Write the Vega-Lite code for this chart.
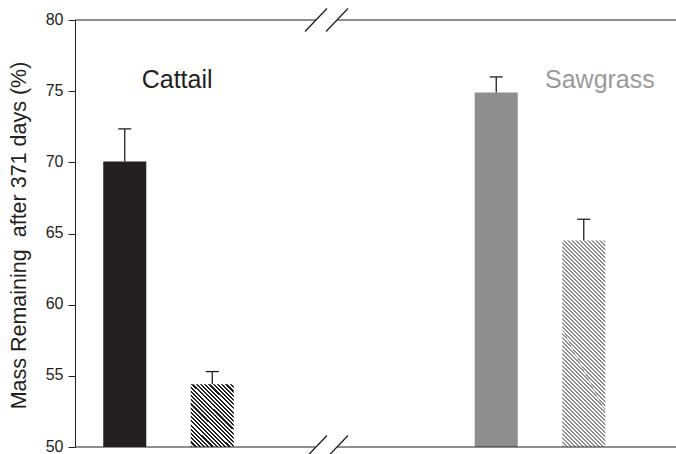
{
  "$schema": "https://vega.github.io/schema/vega-lite/v6.json",
  "width": 601,
  "height": 427,
  "autosize": {"type": "none"},
  "padding": {"left": 75, "top": 20, "right": 0, "bottom": 7},
  "background": "white",
  "config": {"view": {"stroke": null}, "font": "Liberation Sans"},
  "datasets": {
    "bars": [
      {"species": "Cattail", "treatment": "A", "mass": 70.05, "upper": 72.35},
      {"species": "Cattail", "treatment": "B", "mass": 54.4, "upper": 55.3},
      {"species": "Sawgrass", "treatment": "A", "mass": 74.9, "upper": 76.0},
      {"species": "Sawgrass", "treatment": "B", "mass": 64.5, "upper": 66.0}
    ]
  },
  "data": {"name": "bars"},
  "layer": [
    {
      "transform": [{"filter": "datum.treatment === 'A'"}],
      "mark": {"type": "bar", "width": 43},
      "encoding": {
        "x": {"field": "species", "type": "nominal", "scale": {"domain": ["Cattail", "Sawgrass"], "range": [-81.5, 640], "paddingInner": 0.05787, "paddingOuter": 0}, "axis": null},
        "xOffset": {"field": "treatment", "type": "nominal", "scale": {"domain": ["A", "B"], "paddingInner": 0, "paddingOuter": 1}},
        "y": {"field": "mass", "type": "quantitative", "scale": {"domain": [50, 80], "nice": false, "zero": false},
          "axis": {"values": [50, 55, 60, 65, 70, 75, 80], "grid": false, "tickSize": 7, "tickColor": "#231f20", "tickWidth": 1, "domainColor": "#231f20", "domainWidth": 1, "labelFontSize": 16, "labelOffset": -1, "labelColor": "#231f20", "labelPadding": 5, "labelFont": "Liberation Sans",
            "title": "Mass Remaining\u00a0 after 371 days (%)", "titleFont": "Liberation Sans", "titleFontSize": 21.5, "titleFontWeight": "normal", "titleColor": "#231f20", "titleX": -45, "titleY": 215, "titleAngle": 270, "titleBaseline": "bottom", "titleAlign": "center"}},
        "y2": {"datum": 50},
        "color": {"field": "species", "type": "nominal", "scale": {"domain": ["Cattail", "Sawgrass"], "range": ["#231f20", "#8e8e90"]}, "legend": null}
      }
    },
    {
      "transform": [{"filter": "datum.species === 'Cattail' && datum.treatment === 'B'"}],
      "mark": {"type": "bar", "width": 43, "fill": {"gradient": "linear", "x1": 0, "y1": 1, "x2": 0.7834, "y2": -0.1478, "stops": [
        {"offset": 0, "color": "#231f20"}, {"offset": 0.02, "color": "#231f20"},
        {"offset": 0.02, "color": "#ffffff"}, {"offset": 0.04, "color": "#ffffff"},
        {"offset": 0.04, "color": "#231f20"}, {"offset": 0.06, "color": "#231f20"},
        {"offset": 0.06, "color": "#ffffff"}, {"offset": 0.08, "color": "#ffffff"},
        {"offset": 0.08, "color": "#231f20"}, {"offset": 0.1, "color": "#231f20"},
        {"offset": 0.1, "color": "#ffffff"}, {"offset": 0.12, "color": "#ffffff"},
        {"offset": 0.12, "color": "#231f20"}, {"offset": 0.14, "color": "#231f20"},
        {"offset": 0.14, "color": "#ffffff"}, {"offset": 0.16, "color": "#ffffff"},
        {"offset": 0.16, "color": "#231f20"}, {"offset": 0.18, "color": "#231f20"},
        {"offset": 0.18, "color": "#ffffff"}, {"offset": 0.2, "color": "#ffffff"},
        {"offset": 0.2, "color": "#231f20"}, {"offset": 0.22, "color": "#231f20"},
        {"offset": 0.22, "color": "#ffffff"}, {"offset": 0.24, "color": "#ffffff"},
        {"offset": 0.24, "color": "#231f20"}, {"offset": 0.26, "color": "#231f20"},
        {"offset": 0.26, "color": "#ffffff"}, {"offset": 0.28, "color": "#ffffff"},
        {"offset": 0.28, "color": "#231f20"}, {"offset": 0.3, "color": "#231f20"},
        {"offset": 0.3, "color": "#ffffff"}, {"offset": 0.32, "color": "#ffffff"},
        {"offset": 0.32, "color": "#231f20"}, {"offset": 0.34, "color": "#231f20"},
        {"offset": 0.34, "color": "#ffffff"}, {"offset": 0.36, "color": "#ffffff"},
        {"offset": 0.36, "color": "#231f20"}, {"offset": 0.38, "color": "#231f20"},
        {"offset": 0.38, "color": "#ffffff"}, {"offset": 0.4, "color": "#ffffff"},
        {"offset": 0.4, "color": "#231f20"}, {"offset": 0.42, "color": "#231f20"},
        {"offset": 0.42, "color": "#ffffff"}, {"offset": 0.44, "color": "#ffffff"},
        {"offset": 0.44, "color": "#231f20"}, {"offset": 0.46, "color": "#231f20"},
        {"offset": 0.46, "color": "#ffffff"}, {"offset": 0.48, "color": "#ffffff"},
        {"offset": 0.48, "color": "#231f20"}, {"offset": 0.5, "color": "#231f20"},
        {"offset": 0.5, "color": "#ffffff"}, {"offset": 0.52, "color": "#ffffff"},
        {"offset": 0.52, "color": "#231f20"}, {"offset": 0.54, "color": "#231f20"},
        {"offset": 0.54, "color": "#ffffff"}, {"offset": 0.56, "color": "#ffffff"},
        {"offset": 0.56, "color": "#231f20"}, {"offset": 0.58, "color": "#231f20"},
        {"offset": 0.58, "color": "#ffffff"}, {"offset": 0.6, "color": "#ffffff"},
        {"offset": 0.6, "color": "#231f20"}, {"offset": 0.62, "color": "#231f20"},
        {"offset": 0.62, "color": "#ffffff"}, {"offset": 0.64, "color": "#ffffff"},
        {"offset": 0.64, "color": "#231f20"}, {"offset": 0.66, "color": "#231f20"},
        {"offset": 0.66, "color": "#ffffff"}, {"offset": 0.68, "color": "#ffffff"},
        {"offset": 0.68, "color": "#231f20"}, {"offset": 0.7, "color": "#231f20"},
        {"offset": 0.7, "color": "#ffffff"}, {"offset": 0.72, "color": "#ffffff"},
        {"offset": 0.72, "color": "#231f20"}, {"offset": 0.74, "color": "#231f20"},
        {"offset": 0.74, "color": "#ffffff"}, {"offset": 0.76, "color": "#ffffff"},
        {"offset": 0.76, "color": "#231f20"}, {"offset": 0.78, "color": "#231f20"},
        {"offset": 0.78, "color": "#ffffff"}, {"offset": 0.8, "color": "#ffffff"},
        {"offset": 0.8, "color": "#231f20"}, {"offset": 0.82, "color": "#231f20"},
        {"offset": 0.82, "color": "#ffffff"}, {"offset": 0.84, "color": "#ffffff"},
        {"offset": 0.84, "color": "#231f20"}, {"offset": 0.86, "color": "#231f20"},
        {"offset": 0.86, "color": "#ffffff"}, {"offset": 0.88, "color": "#ffffff"},
        {"offset": 0.88, "color": "#231f20"}, {"offset": 0.9, "color": "#231f20"},
        {"offset": 0.9, "color": "#ffffff"}, {"offset": 0.92, "color": "#ffffff"},
        {"offset": 0.92, "color": "#231f20"}, {"offset": 0.94, "color": "#231f20"},
        {"offset": 0.94, "color": "#ffffff"}, {"offset": 0.96, "color": "#ffffff"},
        {"offset": 0.96, "color": "#231f20"}, {"offset": 0.98, "color": "#231f20"},
        {"offset": 0.98, "color": "#ffffff"}, {"offset": 1, "color": "#ffffff"}
      ]}},
      "encoding": {
        "x": {"field": "species", "type": "nominal"},
        "xOffset": {"field": "treatment", "type": "nominal"},
        "y": {"field": "mass", "type": "quantitative"},
        "y2": {"datum": 50}
      }
    },
    {
      "transform": [{"filter": "datum.species === 'Sawgrass' && datum.treatment === 'B'"}],
      "mark": {"type": "bar", "width": 43, "fill": {"gradient": "linear", "x1": 0, "y1": 1, "x2": 0.2418, "y2": -0.1583, "stops": [
        {"offset": 0, "color": "#8e8e90"}, {"offset": 0.008, "color": "#8e8e90"},
        {"offset": 0.008, "color": "#ffffff"}, {"offset": 0.016, "color": "#ffffff"},
        {"offset": 0.016, "color": "#8e8e90"}, {"offset": 0.024, "color": "#8e8e90"},
        {"offset": 0.024, "color": "#ffffff"}, {"offset": 0.032, "color": "#ffffff"},
        {"offset": 0.032, "color": "#8e8e90"}, {"offset": 0.04, "color": "#8e8e90"},
        {"offset": 0.04, "color": "#ffffff"}, {"offset": 0.048, "color": "#ffffff"},
        {"offset": 0.048, "color": "#8e8e90"}, {"offset": 0.056, "color": "#8e8e90"},
        {"offset": 0.056, "color": "#ffffff"}, {"offset": 0.064, "color": "#ffffff"},
        {"offset": 0.064, "color": "#8e8e90"}, {"offset": 0.072, "color": "#8e8e90"},
        {"offset": 0.072, "color": "#ffffff"}, {"offset": 0.08, "color": "#ffffff"},
        {"offset": 0.08, "color": "#8e8e90"}, {"offset": 0.088, "color": "#8e8e90"},
        {"offset": 0.088, "color": "#ffffff"}, {"offset": 0.096, "color": "#ffffff"},
        {"offset": 0.096, "color": "#8e8e90"}, {"offset": 0.104, "color": "#8e8e90"},
        {"offset": 0.104, "color": "#ffffff"}, {"offset": 0.112, "color": "#ffffff"},
        {"offset": 0.112, "color": "#8e8e90"}, {"offset": 0.12, "color": "#8e8e90"},
        {"offset": 0.12, "color": "#ffffff"}, {"offset": 0.128, "color": "#ffffff"},
        {"offset": 0.128, "color": "#8e8e90"}, {"offset": 0.136, "color": "#8e8e90"},
        {"offset": 0.136, "color": "#ffffff"}, {"offset": 0.144, "color": "#ffffff"},
        {"offset": 0.144, "color": "#8e8e90"}, {"offset": 0.152, "color": "#8e8e90"},
        {"offset": 0.152, "color": "#ffffff"}, {"offset": 0.16, "color": "#ffffff"},
        {"offset": 0.16, "color": "#8e8e90"}, {"offset": 0.168, "color": "#8e8e90"},
        {"offset": 0.168, "color": "#ffffff"}, {"offset": 0.176, "color": "#ffffff"},
        {"offset": 0.176, "color": "#8e8e90"}, {"offset": 0.184, "color": "#8e8e90"},
        {"offset": 0.184, "color": "#ffffff"}, {"offset": 0.192, "color": "#ffffff"},
        {"offset": 0.192, "color": "#8e8e90"}, {"offset": 0.2, "color": "#8e8e90"},
        {"offset": 0.2, "color": "#ffffff"}, {"offset": 0.208, "color": "#ffffff"},
        {"offset": 0.208, "color": "#8e8e90"}, {"offset": 0.216, "color": "#8e8e90"},
        {"offset": 0.216, "color": "#ffffff"}, {"offset": 0.224, "color": "#ffffff"},
        {"offset": 0.224, "color": "#8e8e90"}, {"offset": 0.232, "color": "#8e8e90"},
        {"offset": 0.232, "color": "#ffffff"}, {"offset": 0.24, "color": "#ffffff"},
        {"offset": 0.24, "color": "#8e8e90"}, {"offset": 0.248, "color": "#8e8e90"},
        {"offset": 0.248, "color": "#ffffff"}, {"offset": 0.256, "color": "#ffffff"},
        {"offset": 0.256, "color": "#8e8e90"}, {"offset": 0.264, "color": "#8e8e90"},
        {"offset": 0.264, "color": "#ffffff"}, {"offset": 0.272, "color": "#ffffff"},
        {"offset": 0.272, "color": "#8e8e90"}, {"offset": 0.28, "color": "#8e8e90"},
        {"offset": 0.28, "color": "#ffffff"}, {"offset": 0.288, "color": "#ffffff"},
        {"offset": 0.288, "color": "#8e8e90"}, {"offset": 0.296, "color": "#8e8e90"},
        {"offset": 0.296, "color": "#ffffff"}, {"offset": 0.304, "color": "#ffffff"},
        {"offset": 0.304, "color": "#8e8e90"}, {"offset": 0.312, "color": "#8e8e90"},
        {"offset": 0.312, "color": "#ffffff"}, {"offset": 0.32, "color": "#ffffff"},
        {"offset": 0.32, "color": "#8e8e90"}, {"offset": 0.328, "color": "#8e8e90"},
        {"offset": 0.328, "color": "#ffffff"}, {"offset": 0.336, "color": "#ffffff"},
        {"offset": 0.336, "color": "#8e8e90"}, {"offset": 0.344, "color": "#8e8e90"},
        {"offset": 0.344, "color": "#ffffff"}, {"offset": 0.352, "color": "#ffffff"},
        {"offset": 0.352, "color": "#8e8e90"}, {"offset": 0.36, "color": "#8e8e90"},
        {"offset": 0.36, "color": "#ffffff"}, {"offset": 0.368, "color": "#ffffff"},
        {"offset": 0.368, "color": "#8e8e90"}, {"offset": 0.376, "color": "#8e8e90"},
        {"offset": 0.376, "color": "#ffffff"}, {"offset": 0.384, "color": "#ffffff"},
        {"offset": 0.384, "color": "#8e8e90"}, {"offset": 0.392, "color": "#8e8e90"},
        {"offset": 0.392, "color": "#ffffff"}, {"offset": 0.4, "color": "#ffffff"},
        {"offset": 0.4, "color": "#8e8e90"}, {"offset": 0.408, "color": "#8e8e90"},
        {"offset": 0.408, "color": "#ffffff"}, {"offset": 0.416, "color": "#ffffff"},
        {"offset": 0.416, "color": "#8e8e90"}, {"offset": 0.424, "color": "#8e8e90"},
        {"offset": 0.424, "color": "#ffffff"}, {"offset": 0.432, "color": "#ffffff"},
        {"offset": 0.432, "color": "#8e8e90"}, {"offset": 0.44, "color": "#8e8e90"},
        {"offset": 0.44, "color": "#ffffff"}, {"offset": 0.448, "color": "#ffffff"},
        {"offset": 0.448, "color": "#8e8e90"}, {"offset": 0.456, "color": "#8e8e90"},
        {"offset": 0.456, "color": "#ffffff"}, {"offset": 0.464, "color": "#ffffff"},
        {"offset": 0.464, "color": "#8e8e90"}, {"offset": 0.472, "color": "#8e8e90"},
        {"offset": 0.472, "color": "#ffffff"}, {"offset": 0.48, "color": "#ffffff"},
        {"offset": 0.48, "color": "#8e8e90"}, {"offset": 0.488, "color": "#8e8e90"},
        {"offset": 0.488, "color": "#ffffff"}, {"offset": 0.496, "color": "#ffffff"},
        {"offset": 0.496, "color": "#8e8e90"}, {"offset": 0.504, "color": "#8e8e90"},
        {"offset": 0.504, "color": "#ffffff"}, {"offset": 0.512, "color": "#ffffff"},
        {"offset": 0.512, "color": "#8e8e90"}, {"offset": 0.52, "color": "#8e8e90"},
        {"offset": 0.52, "color": "#ffffff"}, {"offset": 0.528, "color": "#ffffff"},
        {"offset": 0.528, "color": "#8e8e90"}, {"offset": 0.536, "color": "#8e8e90"},
        {"offset": 0.536, "color": "#ffffff"}, {"offset": 0.544, "color": "#ffffff"},
        {"offset": 0.544, "color": "#8e8e90"}, {"offset": 0.552, "color": "#8e8e90"},
        {"offset": 0.552, "color": "#ffffff"}, {"offset": 0.56, "color": "#ffffff"},
        {"offset": 0.56, "color": "#8e8e90"}, {"offset": 0.568, "color": "#8e8e90"},
        {"offset": 0.568, "color": "#ffffff"}, {"offset": 0.576, "color": "#ffffff"},
        {"offset": 0.576, "color": "#8e8e90"}, {"offset": 0.584, "color": "#8e8e90"},
        {"offset": 0.584, "color": "#ffffff"}, {"offset": 0.592, "color": "#ffffff"},
        {"offset": 0.592, "color": "#8e8e90"}, {"offset": 0.6, "color": "#8e8e90"},
        {"offset": 0.6, "color": "#ffffff"}, {"offset": 0.608, "color": "#ffffff"},
        {"offset": 0.608, "color": "#8e8e90"}, {"offset": 0.616, "color": "#8e8e90"},
        {"offset": 0.616, "color": "#ffffff"}, {"offset": 0.624, "color": "#ffffff"},
        {"offset": 0.624, "color": "#8e8e90"}, {"offset": 0.632, "color": "#8e8e90"},
        {"offset": 0.632, "color": "#ffffff"}, {"offset": 0.64, "color": "#ffffff"},
        {"offset": 0.64, "color": "#8e8e90"}, {"offset": 0.648, "color": "#8e8e90"},
        {"offset": 0.648, "color": "#ffffff"}, {"offset": 0.656, "color": "#ffffff"},
        {"offset": 0.656, "color": "#8e8e90"}, {"offset": 0.664, "color": "#8e8e90"},
        {"offset": 0.664, "color": "#ffffff"}, {"offset": 0.672, "color": "#ffffff"},
        {"offset": 0.672, "color": "#8e8e90"}, {"offset": 0.68, "color": "#8e8e90"},
        {"offset": 0.68, "color": "#ffffff"}, {"offset": 0.688, "color": "#ffffff"},
        {"offset": 0.688, "color": "#8e8e90"}, {"offset": 0.696, "color": "#8e8e90"},
        {"offset": 0.696, "color": "#ffffff"}, {"offset": 0.704, "color": "#ffffff"},
        {"offset": 0.704, "color": "#8e8e90"}, {"offset": 0.712, "color": "#8e8e90"},
        {"offset": 0.712, "color": "#ffffff"}, {"offset": 0.72, "color": "#ffffff"},
        {"offset": 0.72, "color": "#8e8e90"}, {"offset": 0.728, "color": "#8e8e90"},
        {"offset": 0.728, "color": "#ffffff"}, {"offset": 0.736, "color": "#ffffff"},
        {"offset": 0.736, "color": "#8e8e90"}, {"offset": 0.744, "color": "#8e8e90"},
        {"offset": 0.744, "color": "#ffffff"}, {"offset": 0.752, "color": "#ffffff"},
        {"offset": 0.752, "color": "#8e8e90"}, {"offset": 0.76, "color": "#8e8e90"},
        {"offset": 0.76, "color": "#ffffff"}, {"offset": 0.768, "color": "#ffffff"},
        {"offset": 0.768, "color": "#8e8e90"}, {"offset": 0.776, "color": "#8e8e90"},
        {"offset": 0.776, "color": "#ffffff"}, {"offset": 0.784, "color": "#ffffff"},
        {"offset": 0.784, "color": "#8e8e90"}, {"offset": 0.792, "color": "#8e8e90"},
        {"offset": 0.792, "color": "#ffffff"}, {"offset": 0.8, "color": "#ffffff"},
        {"offset": 0.8, "color": "#8e8e90"}, {"offset": 0.808, "color": "#8e8e90"},
        {"offset": 0.808, "color": "#ffffff"}, {"offset": 0.816, "color": "#ffffff"},
        {"offset": 0.816, "color": "#8e8e90"}, {"offset": 0.824, "color": "#8e8e90"},
        {"offset": 0.824, "color": "#ffffff"}, {"offset": 0.832, "color": "#ffffff"},
        {"offset": 0.832, "color": "#8e8e90"}, {"offset": 0.84, "color": "#8e8e90"},
        {"offset": 0.84, "color": "#ffffff"}, {"offset": 0.848, "color": "#ffffff"},
        {"offset": 0.848, "color": "#8e8e90"}, {"offset": 0.856, "color": "#8e8e90"},
        {"offset": 0.856, "color": "#ffffff"}, {"offset": 0.864, "color": "#ffffff"},
        {"offset": 0.864, "color": "#8e8e90"}, {"offset": 0.872, "color": "#8e8e90"},
        {"offset": 0.872, "color": "#ffffff"}, {"offset": 0.88, "color": "#ffffff"},
        {"offset": 0.88, "color": "#8e8e90"}, {"offset": 0.888, "color": "#8e8e90"},
        {"offset": 0.888, "color": "#ffffff"}, {"offset": 0.896, "color": "#ffffff"},
        {"offset": 0.896, "color": "#8e8e90"}, {"offset": 0.904, "color": "#8e8e90"},
        {"offset": 0.904, "color": "#ffffff"}, {"offset": 0.912, "color": "#ffffff"},
        {"offset": 0.912, "color": "#8e8e90"}, {"offset": 0.92, "color": "#8e8e90"},
        {"offset": 0.92, "color": "#ffffff"}, {"offset": 0.928, "color": "#ffffff"},
        {"offset": 0.928, "color": "#8e8e90"}, {"offset": 0.936, "color": "#8e8e90"},
        {"offset": 0.936, "color": "#ffffff"}, {"offset": 0.944, "color": "#ffffff"},
        {"offset": 0.944, "color": "#8e8e90"}, {"offset": 0.952, "color": "#8e8e90"},
        {"offset": 0.952, "color": "#ffffff"}, {"offset": 0.96, "color": "#ffffff"},
        {"offset": 0.96, "color": "#8e8e90"}, {"offset": 0.968, "color": "#8e8e90"},
        {"offset": 0.968, "color": "#ffffff"}, {"offset": 0.976, "color": "#ffffff"},
        {"offset": 0.976, "color": "#8e8e90"}, {"offset": 0.984, "color": "#8e8e90"},
        {"offset": 0.984, "color": "#ffffff"}, {"offset": 0.992, "color": "#ffffff"},
        {"offset": 0.992, "color": "#8e8e90"}, {"offset": 1, "color": "#8e8e90"}
      ]}},
      "encoding": {
        "x": {"field": "species", "type": "nominal"},
        "xOffset": {"field": "treatment", "type": "nominal"},
        "y": {"field": "mass", "type": "quantitative"},
        "y2": {"datum": 50}
      }
    },
    {
      "mark": {"type": "rule", "color": "#231f20", "strokeWidth": 1.3},
      "encoding": {
        "x": {"field": "species", "type": "nominal"},
        "xOffset": {"field": "treatment", "type": "nominal"},
        "y": {"field": "mass", "type": "quantitative"},
        "y2": {"field": "upper"}
      }
    },
    {
      "mark": {"type": "tick", "color": "#231f20", "size": 13, "thickness": 1.3, "opacity": 1},
      "encoding": {
        "x": {"field": "species", "type": "nominal"},
        "xOffset": {"field": "treatment", "type": "nominal"},
        "y": {"field": "upper", "type": "quantitative"}
      }
    },
    {
      "data": {"values": [{"edge": 80}, {"edge": 50}]},
      "mark": {"type": "rule", "color": "#231f20", "strokeWidth": 1},
      "encoding": {
        "y": {"field": "edge", "type": "quantitative"}
      }
    },
    {
      "data": {"values": [{"edge": 80}, {"edge": 50}]},
      "mark": {"type": "point", "shape": "M -0.429 -0.12 L 0.621 -0.12 L 0.429 0.12 L -0.621 0.12 Z", "filled": true, "fill": "white", "strokeWidth": 0, "size": 1600, "opacity": 1},
      "encoding": {
        "x": {"datum": "Cattail", "type": "nominal", "bandPosition": 0.9514},
        "y": {"field": "edge", "type": "quantitative"}
      }
    },
    {
      "data": {"values": [{"edge": 80}, {"edge": 50}]},
      "mark": {"type": "point", "shape": "M -1.075 0.575 L 0.025 -0.575 M -0.025 0.575 L 1.075 -0.575", "filled": false, "stroke": "#231f20", "strokeWidth": 1.3, "size": 1600, "opacity": 1},
      "encoding": {
        "x": {"datum": "Cattail", "type": "nominal", "bandPosition": 0.9514},
        "y": {"field": "edge", "type": "quantitative"}
      }
    },
    {
      "data": {"values": [{"label": "Cattail"}]},
      "mark": {"type": "text", "align": "left", "baseline": "alphabetic", "fontSize": 25, "font": "Liberation Sans", "color": "#231f20"},
      "encoding": {
        "x": {"datum": "Cattail", "type": "nominal", "bandPosition": 0.4234},
        "y": {"datum": 75.19, "type": "quantitative"},
        "text": {"field": "label"}
      }
    },
    {
      "data": {"values": [{"label": "Sawgrass"}]},
      "mark": {"type": "text", "align": "left", "baseline": "alphabetic", "fontSize": 25, "font": "Liberation Sans", "color": "#9a9a9a"},
      "encoding": {
        "x": {"datum": "Sawgrass", "type": "nominal", "bandPosition": 0.5143},
        "y": {"datum": 75.19, "type": "quantitative"},
        "text": {"field": "label"}
      }
    }
  ]
}
